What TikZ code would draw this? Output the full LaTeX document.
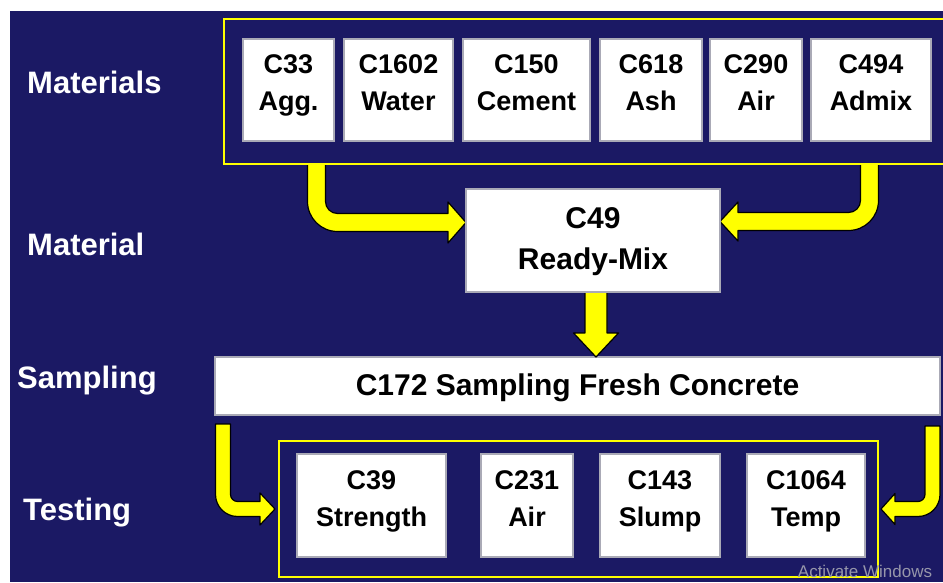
\documentclass[tikz,border=0pt]{standalone}
\usepackage{fontspec}
\setmainfont{Liberation Sans}
\usetikzlibrary{calc}
\definecolor{navy}{RGB}{27,25,100}
\definecolor{ylw}{RGB}{255,255,0}
\definecolor{boxgray}{RGB}{170,170,182}
\definecolor{wmark}{RGB}{150,150,170}
\tikzset{
  grp/.style={draw=ylw, line width=2.8pt, fill=none, inner sep=0pt, outer sep=0pt, rectangle},
  wbox/.style={draw=boxgray, line width=1.3pt, fill=white, inner sep=0pt, outer sep=0pt, rectangle},
  btext/.style={text=black, align=center, font=\fontsize{27}{37}\selectfont\bfseries, inner sep=0pt, anchor=north},
  bigtext/.style={text=black, align=center, font=\fontsize{30}{41}\selectfont\bfseries, inner sep=0pt, anchor=north},
  lbl/.style={text=white, font=\fontsize{31}{36}\selectfont\bfseries, anchor=base west, inner sep=0pt},
  arr/.style={fill=ylw, draw=black, line width=1.2pt, line join=round}
}
% #1 start, #2 tip, #3 dir (+1 right, -1 left), #4 half shaft, #5 half head, #6 head length, #7 outer radius
\newcommand\bentarrow[7]{%
  \filldraw[arr] let \p1=(#1), \p2=(#2), \n1={#7-2*#4} in
   ({\x1-#3*#4}, \y1) --
   ({\x1-#3*#4}, {\y2-#4+#7}) arc[start angle={90+90*#3}, end angle={90+180*#3}, radius=#7] --
   ({\x2-#3*#6}, {\y2-#4}) -- ({\x2-#3*#6}, {\y2-#5}) -- (\x2,\y2) --
   ({\x2-#3*#6}, {\y2+#5}) -- ({\x2-#3*#6}, {\y2+#4}) --
   ({\x1+#3*#4+#3*\n1}, {\y2+#4}) arc[start angle=270, end angle={270-90*#3}, radius=\n1] --
   ({\x1+#3*#4}, \y1) -- cycle;}
\begin{document}
\begin{tikzpicture}[x=1pt,y=1pt]
\useasboundingbox (0,0) rectangle (943,582);
\fill[white] (0,0) rectangle (943,582);
\fill[navy] (10,0) rectangle (943,571);
\clip (0,0) rectangle (943,582);

% groups (positions)
\path (224,418) node[grp, anchor=south west, minimum width=726, minimum height=145] (matgrp) {};
\path (279,5) node[grp, anchor=south west, minimum width=599, minimum height=136] (testgrp) {};

% main boxes
\node[wbox, minimum width=254, minimum height=103] (c49) at (593,341.5) {};
\node[wbox, minimum width=725, minimum height=58] (c172) at (577.5,196) {};

% connectors
\coordinate (a1s) at ($(matgrp.south west)+(92.5,0)$);
\coordinate (a1t) at ($(c49.west)+(0,18)$);
\coordinate (a2s) at ($(matgrp.south west)+(645.5,0)$);
\coordinate (a2t) at ($(c49.east)+(0,19)$);
\coordinate (a3s) at ($(c172.south west)+(8,-9)$);
\coordinate (a3t) at ($(testgrp.west)+(-4,0)$);
\coordinate (a4s) at ($(c172.south east)+(-7.5,-11)$);
\coordinate (a4t) at ($(testgrp.east)+(3,0)$);
\coordinate (ds) at ($(c49.south)+(3,0)$);
\coordinate (dt) at (ds |- c172.north);

\bentarrow{a1s}{a1t}{1}{9}{20.5}{18}{30}
\bentarrow{a2s}{a2t}{-1}{9}{19.5}{18}{30}
\bentarrow{a3s}{a3t}{1}{7.5}{16}{15}{22}
\bentarrow{a4s}{a4t}{-1}{7.5}{15.5}{14}{22}
\filldraw[arr] let \p1=(ds), \p2=(dt) in
  ({\x1-11},\y1) -- ({\x1-11},{\y2+24}) -- ({\x1-22.5},{\y2+24}) -- (\x2,\y2) --
  ({\x1+22.5},{\y2+24}) -- ({\x1+11},{\y2+24}) -- ({\x1+11},\y1) -- cycle;

% redraw group frames and C49 border on top of arrow ends
\draw[draw=ylw, line width=2.8pt] (matgrp.south west) rectangle (matgrp.north east);
\draw[draw=ylw, line width=2.8pt] (testgrp.south west) rectangle (testgrp.north east);
\draw[draw=boxgray, line width=1.3pt] (c49.south west) rectangle (c49.north east);

% texts of main boxes
\node[bigtext] at ($(c49.north)+(0,-18.5)$) {C49\\Ready-Mix};
\node[bigtext] at ($(c172.north)+(0,-16.5)$) {C172 Sampling Fresh Concrete};

% material boxes
\foreach \nm/\cx/\w/\txt in {c33/288.5/91/{C33\\Agg.}, c1602/398.5/109/{C1602\\Water}, c150/526.5/127/{C150\\Cement}, c618/651/102/{C618\\Ash}, c290/756/92/{C290\\Air}, c494/871/120/{C494\\Admix}} {
  \node[wbox, minimum width=\w, minimum height=102] (\nm) at (\cx,492) {};
  \node[btext] at ($(\nm.north)+(0,-15.5)$) {\txt};
}

% test boxes
\foreach \nm/\cx/\w/\txt in {c39/371.5/149/{C39\\Strength}, c231/527/92/{C231\\Air}, c143/660/120/{C143\\Slump}, c1064/806/118/{C1064\\Temp}} {
  \node[wbox, minimum width=\w, minimum height=103] (\nm) at (\cx,76.5) {};
  \node[btext] at ($(\nm.north)+(0,-16.5)$) {\txt};
}

% row labels
\node[lbl] (lmats) at (27,488) {Materials};
\node[lbl] (lmat) at (27,326) {Material};
\node[lbl] (lsamp) at (17,194) {Sampling};
\node[lbl] (ltest) at (23,62) {Testing};

% watermark
\node[text=wmark, font=\fontsize{17}{20}\selectfont, inner sep=0pt] (wm) at (865,11) {Activate Windows};
\end{tikzpicture}
\end{document}
